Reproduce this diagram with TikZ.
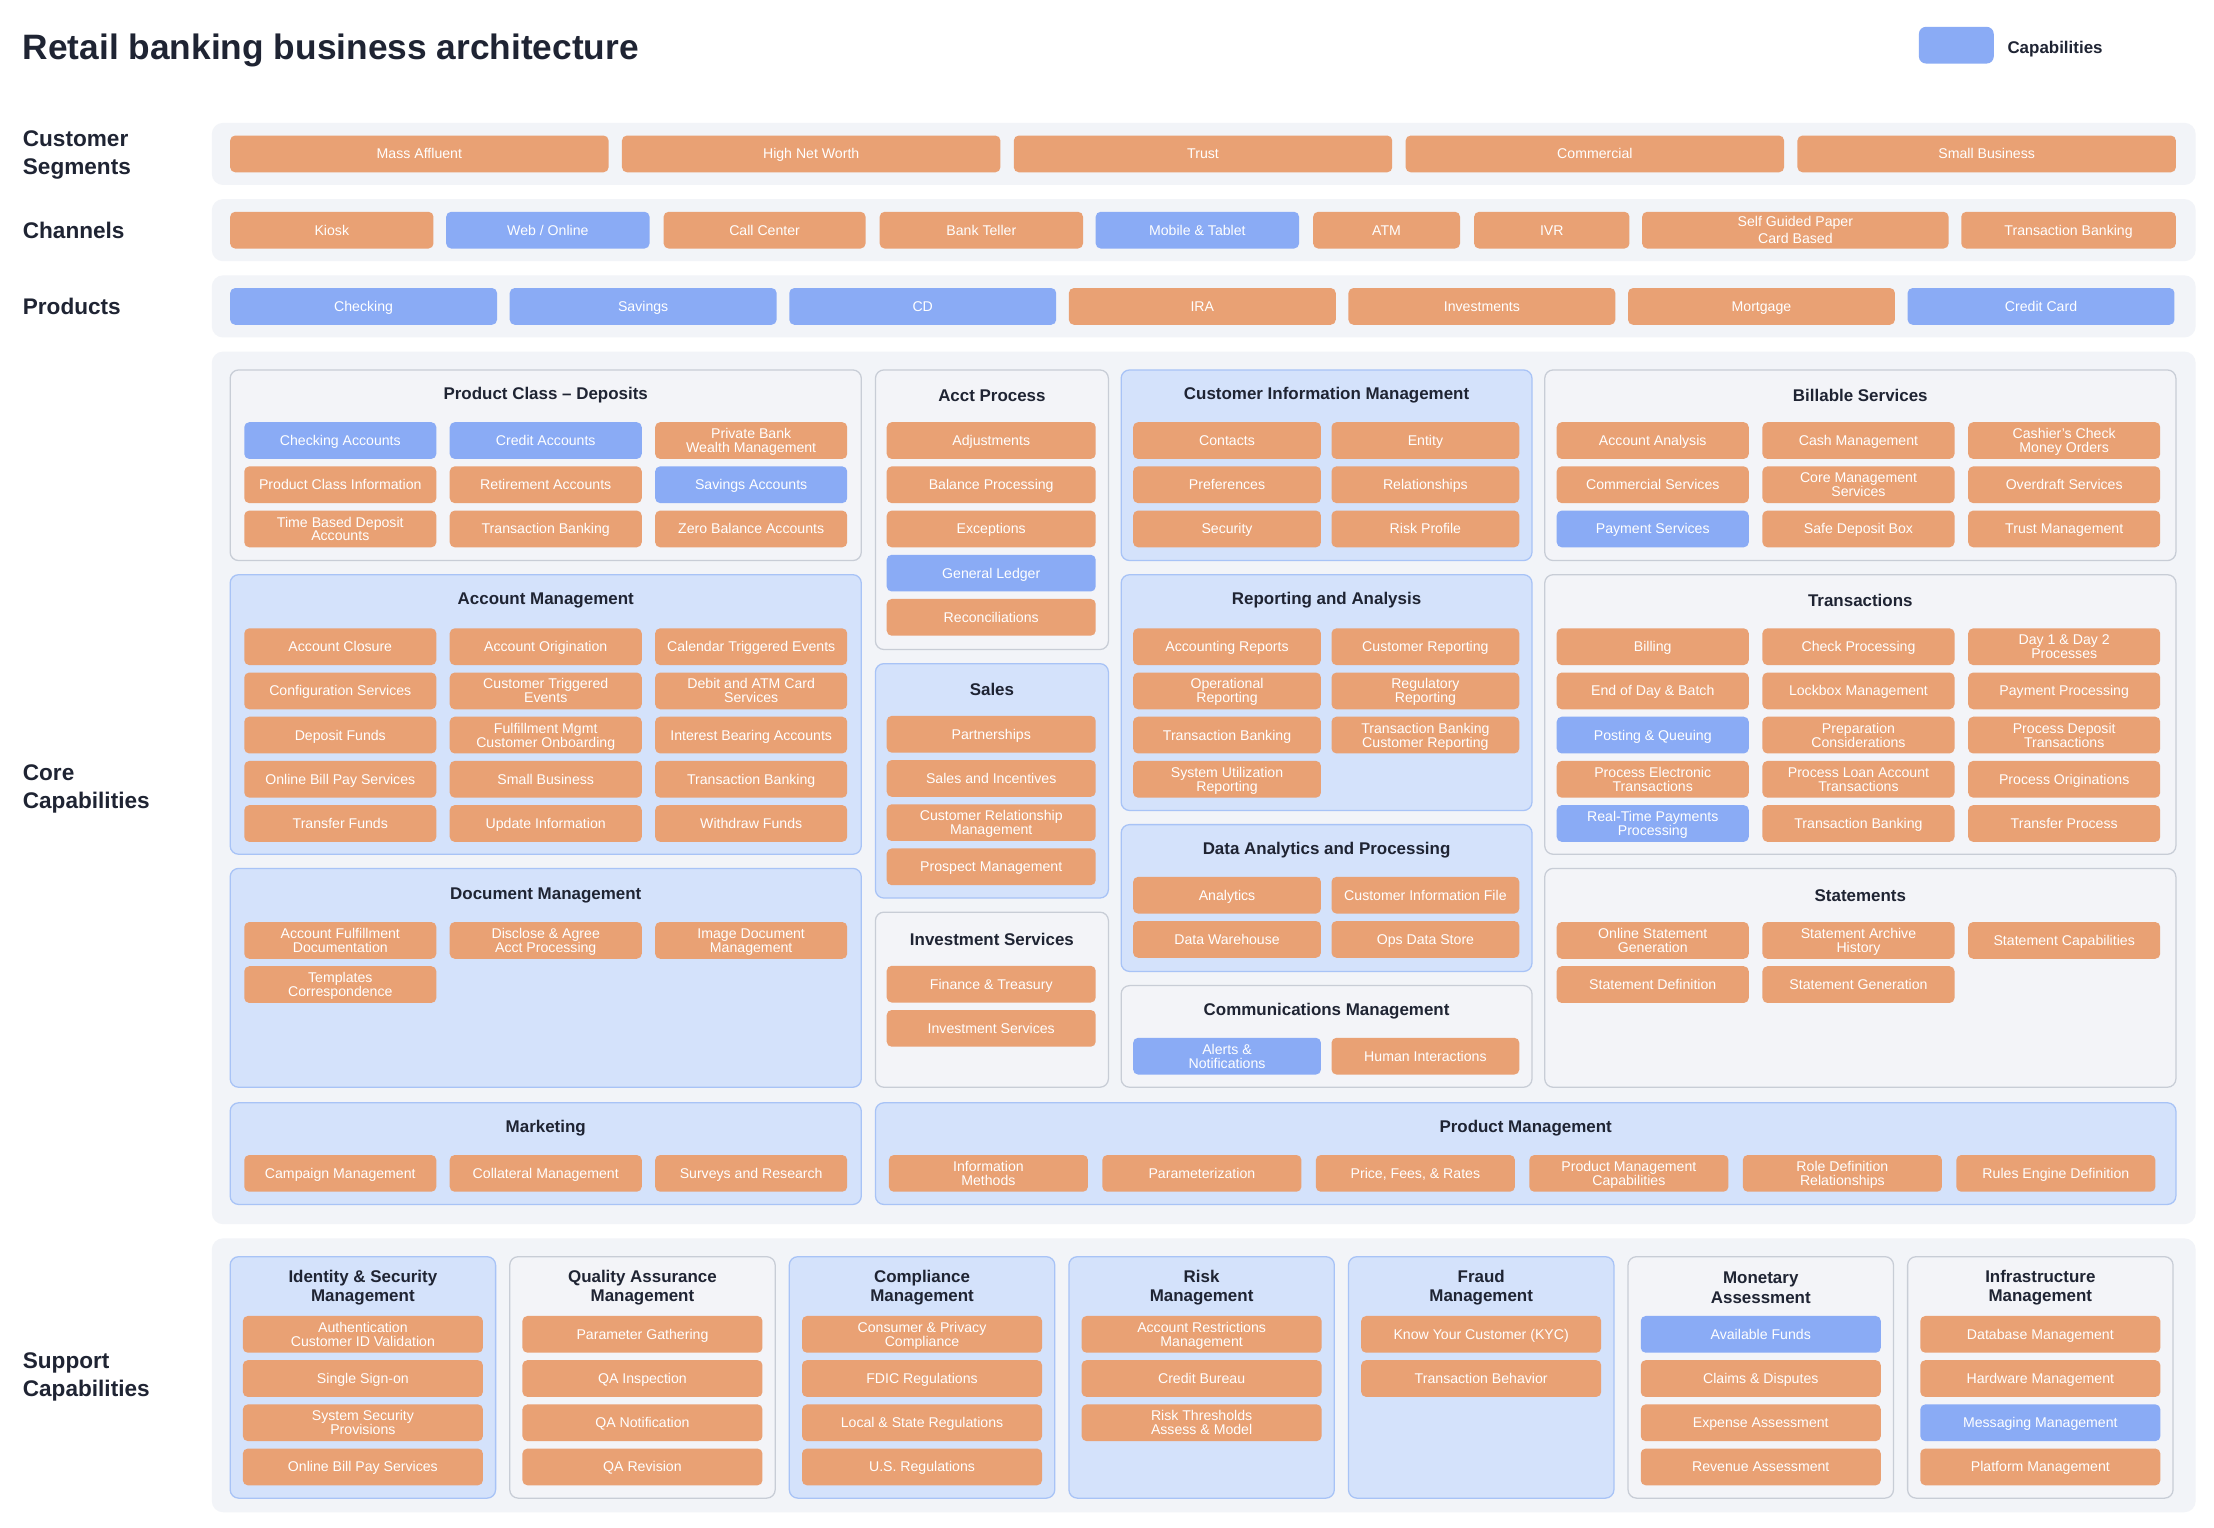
\documentclass[tikz,border=0pt]{standalone}
\usepackage{fontspec}
\setmainfont{Liberation Sans}
\usetikzlibrary{positioning}

\definecolor{capO}{RGB}{233,161,116}
\definecolor{capB}{RGB}{138,171,245}
\definecolor{panB}{RGB}{212,226,251}
\definecolor{panBline}{RGB}{168,195,246}
\definecolor{panG}{RGB}{243,244,248}
\definecolor{panGline}{RGB}{200,205,214}
\definecolor{bandfill}{RGB}{242,244,248}
\definecolor{ink}{RGB}{31,36,51}

\newcommand{\capfont}{\fontsize{10}{9.8}\selectfont}
\newcommand{\ttlfont}{\fontsize{12}{14}\selectfont\bfseries}
% struts so that the text sits in the middle of its box
\newcommand{\captext}[1]{\rule{0pt}{9.2pt}#1\rule[-2.1pt]{0pt}{0pt}}

% grid of capability boxes: name, x of 1st col, col pitch, width, y of 1st row, cols, items
\newcommand{\boxgrid}[7]{%
  \foreach \c/\t [count=\i from 0] in {#7} {
    \pgfmathtruncatemacro{\bcol}{mod(\i,#6)}
    \pgfmathtruncatemacro{\brow}{div(\i,#6)}
    \node[capbox, fill=cap\c, minimum width=#4] (#1-\i) at ({#2+\bcol*#3},{#5+\brow*31.3}) {\captext{\t}};
  }}

% panel with its title: name, style, x1, y1, x2, y2, title, title y
\newcommand{\panel}[8]{%
  \node[#2, minimum width={#5-#3}, minimum height={#6-#4}] (#1) at ({(#3+#5)/2},{(#4+#6)/2}) {};
  \node[ptitle] (#1-t) at ({(#3+#5)/2},#8) {#7};}

\begin{document}
\begin{tikzpicture}[
    x=1pt, y=-1pt,
    capbox/.style={rounded corners=3.5pt, minimum height=26, inner sep=1pt, text=white, font=\capfont, align=center},
    panelB/.style={draw=panBline, fill=panB, line width=0.9pt, rounded corners=6pt, inner sep=0pt},
    panelG/.style={draw=panGline, fill=panG, line width=0.9pt, rounded corners=6pt, inner sep=0pt},
    band/.style={fill=bandfill, rounded corners=8pt, inner sep=0pt},
    ptitle/.style={font=\ttlfont, text=ink, align=center},
    rowlabel/.style={font=\fontsize{16}{20}\selectfont\bfseries, text=ink, align=left, anchor=west, inner sep=0pt}
]
    \fill[white] (0,0) rectangle (1568,1082);
    \useasboundingbox (0,0) rectangle (1568,1082);

    % Title and legend
    \node[anchor=base west, inner sep=0pt, font=\fontsize{25}{30}\selectfont\bfseries, text=ink] (title) at (16,42) {Retail banking business architecture};
    \node[capbox, fill=capB, minimum width=53, rounded corners=5pt] (leg) at (1385.5,32) {};
    \node[right=6pt of leg, yshift=-3pt, font=\fontsize{12}{14}\selectfont\bfseries, text=ink] (leg-t) {Capabilities};

    % Bands
    \node[band, minimum width=1405, minimum height=44] (seg-band) at (852.5,109) {};
    \node[band, minimum width=1405, minimum height=44] (chn-band) at (852.5,163) {};
    \node[band, minimum width=1405, minimum height=44] (prd-band) at (852.5,217) {};
    \node[band, minimum width=1405, minimum height=618] (core-band) at (852.5,558) {};
    \node[band, minimum width=1405, minimum height=194] (sup-band) at (852.5,974) {};

    % Row labels
    \node[rowlabel] (lbl-seg) at (16,110) {Customer\\Segments};
    \node[rowlabel] (lbl-chn) at (16,163) {Channels};
    \node[rowlabel] (lbl-prd) at (16,217) {Products};
    \node[rowlabel] (lbl-core) at (16,559) {Core\\Capabilities};
    \node[rowlabel] (lbl-sup) at (16,975) {Support\\Capabilities};

    % Customer segments
    \boxgrid{seg}{297}{277.5}{268}{109}{5}{O/Mass Affluent, O/High Net Worth, O/Trust, O/Commercial, O/Small Business}

    % Channels
    \foreach \c/\xa/\xb/\t [count=\i from 0] in {O/163/307/Kiosk, B/316/460/{Web / Online}, O/470/613/Call Center,
        O/623/767/Bank Teller, B/776/920/{Mobile \& Tablet}, O/930/1034/ATM, O/1044/1154/IVR,
        O/1163/1380/{Self Guided Paper\\[2pt]Card Based}, O/1389/1541/Transaction Banking}
        \node[capbox, fill=cap\c, minimum width=\xb-\xa] (chn-\i) at ({(\xa+\xb)/2},163) {\captext{\t}};

    % Products
    \boxgrid{prd}{257.5}{198}{189}{217}{7}{B/Checking, B/Savings, B/CD, O/IRA, O/Investments, O/Mortgage, B/Credit Card}

    % Core capabilities: left column
    \panel{pcd}{panelG}{163}{262}{610}{397}{Product Class -- Deposits}{280}
    \boxgrid{pcd}{241}{145.5}{136}{312}{3}{B/Checking Accounts, B/Credit Accounts, O/{Private Bank\\Wealth Management},
        O/Product Class Information, O/Retirement Accounts, B/Savings Accounts,
        O/{Time Based Deposit\\Accounts}, O/Transaction Banking, O/Zero Balance Accounts}

    \panel{acm}{panelB}{163}{407}{610}{605}{Account Management}{425}
    \boxgrid{acm}{241}{145.5}{136}{458}{3}{O/Account Closure, O/Account Origination, O/Calendar Triggered Events,
        O/Configuration Services, O/{Customer Triggered\\Events}, O/{Debit and ATM Card\\Services},
        O/Deposit Funds, O/{Fulfillment Mgmt\\Customer Onboarding}, O/Interest Bearing Accounts,
        O/Online Bill Pay Services, O/Small Business, O/Transaction Banking,
        O/Transfer Funds, O/Update Information, O/Withdraw Funds}

    \panel{doc}{panelB}{163}{615}{610}{770}{Document Management}{634}
    \boxgrid{doc}{241}{145.5}{136}{666}{3}{O/{Account Fulfillment\\Documentation}, O/{Disclose \& Agree\\Acct Processing},
        O/{Image Document\\Management}, O/{Templates\\Correspondence}}

    \panel{mkt}{panelB}{163}{781}{610}{853}{Marketing}{799}
    \boxgrid{mkt}{241}{145.5}{136}{831}{3}{O/Campaign Management, O/Collateral Management, O/Surveys and Research}

    % Core capabilities: middle column
    \panel{acp}{panelG}{620}{262}{785}{460}{Acct Process}{280}
    \boxgrid{acp}{702}{0}{148}{312}{1}{O/Adjustments, O/Balance Processing, O/Exceptions, B/General Ledger, O/Reconciliations}

    \panel{sal}{panelB}{620}{470}{785}{636}{Sales}{488}
    \boxgrid{sal}{702}{0}{148}{520}{1}{O/Partnerships, O/Sales and Incentives, O/{Customer Relationship\\Management}, O/Prospect Management}

    \panel{inv}{panelG}{620}{646}{785}{770}{Investment Services}{665}
    \boxgrid{inv}{702}{0}{148}{697}{1}{O/Finance \& Treasury, O/Investment Services}

    \panel{cim}{panelB}{794}{262}{1085}{397}{Customer Information Management}{280}
    \boxgrid{cim}{869}{140.5}{133}{312}{2}{O/Contacts, O/Entity, O/Preferences, O/Relationships, O/Security, O/Risk Profile}

    \panel{rep}{panelB}{794}{407}{1085}{574}{Reporting and Analysis}{425}
    \boxgrid{rep}{869}{140.5}{133}{458}{2}{O/Accounting Reports, O/Customer Reporting, O/{Operational\\Reporting},
        O/{Regulatory\\Reporting}, O/Transaction Banking, O/{Transaction Banking\\Customer Reporting},
        O/{System Utilization\\Reporting}}

    \panel{dap}{panelB}{794}{584}{1085}{688}{Data Analytics and Processing}{602}
    \boxgrid{dap}{869}{140.5}{133}{634}{2}{O/Analytics, O/Customer Information File, O/Data Warehouse, O/Ops Data Store}

    \panel{com}{panelG}{794}{698}{1085}{770}{Communications Management}{716}
    \boxgrid{com}{869}{140.5}{133}{748}{2}{B/{Alerts \&\\Notifications}, O/Human Interactions}

    % Core capabilities: right column
    \panel{bil}{panelG}{1094}{262}{1541}{397}{Billable Services}{280}
    \boxgrid{bil}{1170.5}{145.7}{136}{312}{3}{O/Account Analysis, O/Cash Management, O/{Cashier's Check\\Money Orders},
        O/Commercial Services, O/{Core Management\\Services}, O/Overdraft Services,
        B/Payment Services, O/Safe Deposit Box, O/Trust Management}

    \panel{trn}{panelG}{1094}{407}{1541}{605}{Transactions}{425}
    \boxgrid{trn}{1170.5}{145.7}{136}{458}{3}{O/Billing, O/Check Processing, O/{Day 1 \& Day 2\\Processes},
        O/End of Day \& Batch, O/Lockbox Management, O/Payment Processing,
        B/Posting \& Queuing, O/{Preparation\\Considerations}, O/{Process Deposit\\Transactions},
        O/{Process Electronic\\Transactions}, O/{Process Loan Account\\Transactions}, O/Process Originations,
        B/{Real-Time Payments\\Processing}, O/Transaction Banking, O/Transfer Process}

    \panel{stm}{panelG}{1094}{615}{1541}{770}{Statements}{634}
    \boxgrid{stm}{1170.5}{145.7}{136}{666}{3}{O/{Online Statement\\Generation}, O/{Statement Archive\\History},
        O/Statement Capabilities, O/Statement Definition, O/Statement Generation}

    \panel{pm}{panelB}{620}{781}{1541}{853}{Product Management}{799}
    \boxgrid{pm}{700}{151.2}{141}{831}{6}{O/{Information\\Methods}, O/Parameterization, O/{Price, Fees, \& Rates},
        O/{Product Management\\Capabilities}, O/{Role Definition\\Relationships}, O/Rules Engine Definition}

    % Support capabilities
    \panel{ism}{panelB}{163}{890}{351}{1061}{Identity \& Security\\Management}{912}
    \boxgrid{ism}{257}{0}{170}{945}{1}{O/{Authentication\\Customer ID Validation}, O/Single Sign-on,
        O/{System Security\\Provisions}, O/Online Bill Pay Services}

    \panel{qam}{panelG}{361}{890}{549}{1061}{Quality Assurance\\Management}{912}
    \boxgrid{qam}{455}{0}{170}{945}{1}{O/Parameter Gathering, O/QA Inspection, O/QA Notification, O/QA Revision}

    \panel{cpm}{panelB}{559}{890}{747}{1061}{Compliance\\Management}{912}
    \boxgrid{cpm}{653}{0}{170}{945}{1}{O/{Consumer \& Privacy\\Compliance}, O/FDIC Regulations,
        O/Local \& State Regulations, O/U.S. Regulations}

    \panel{rkm}{panelB}{757}{890}{945}{1061}{Risk\\Management}{912}
    \boxgrid{rkm}{851}{0}{170}{945}{1}{O/{Account Restrictions\\Management}, O/Credit Bureau, O/{Risk Thresholds\\Assess \& Model}}

    \panel{frm}{panelB}{955}{890}{1143}{1061}{Fraud\\Management}{912}
    \boxgrid{frm}{1049}{0}{170}{945}{1}{O/Know Your Customer (KYC), O/Transaction Behavior}

    \panel{mon}{panelG}{1153}{890}{1341}{1061}{Monetary\\Assessment}{912}
    \boxgrid{mon}{1247}{0}{170}{945}{1}{B/Available Funds, O/Claims \& Disputes, O/Expense Assessment, O/Revenue Assessment}

    \panel{inf}{panelG}{1351}{890}{1539}{1061}{Infrastructure\\Management}{912}
    \boxgrid{inf}{1445}{0}{170}{945}{1}{O/Database Management, O/Hardware Management, B/Messaging Management, O/Platform Management}

\end{tikzpicture}
\end{document}
